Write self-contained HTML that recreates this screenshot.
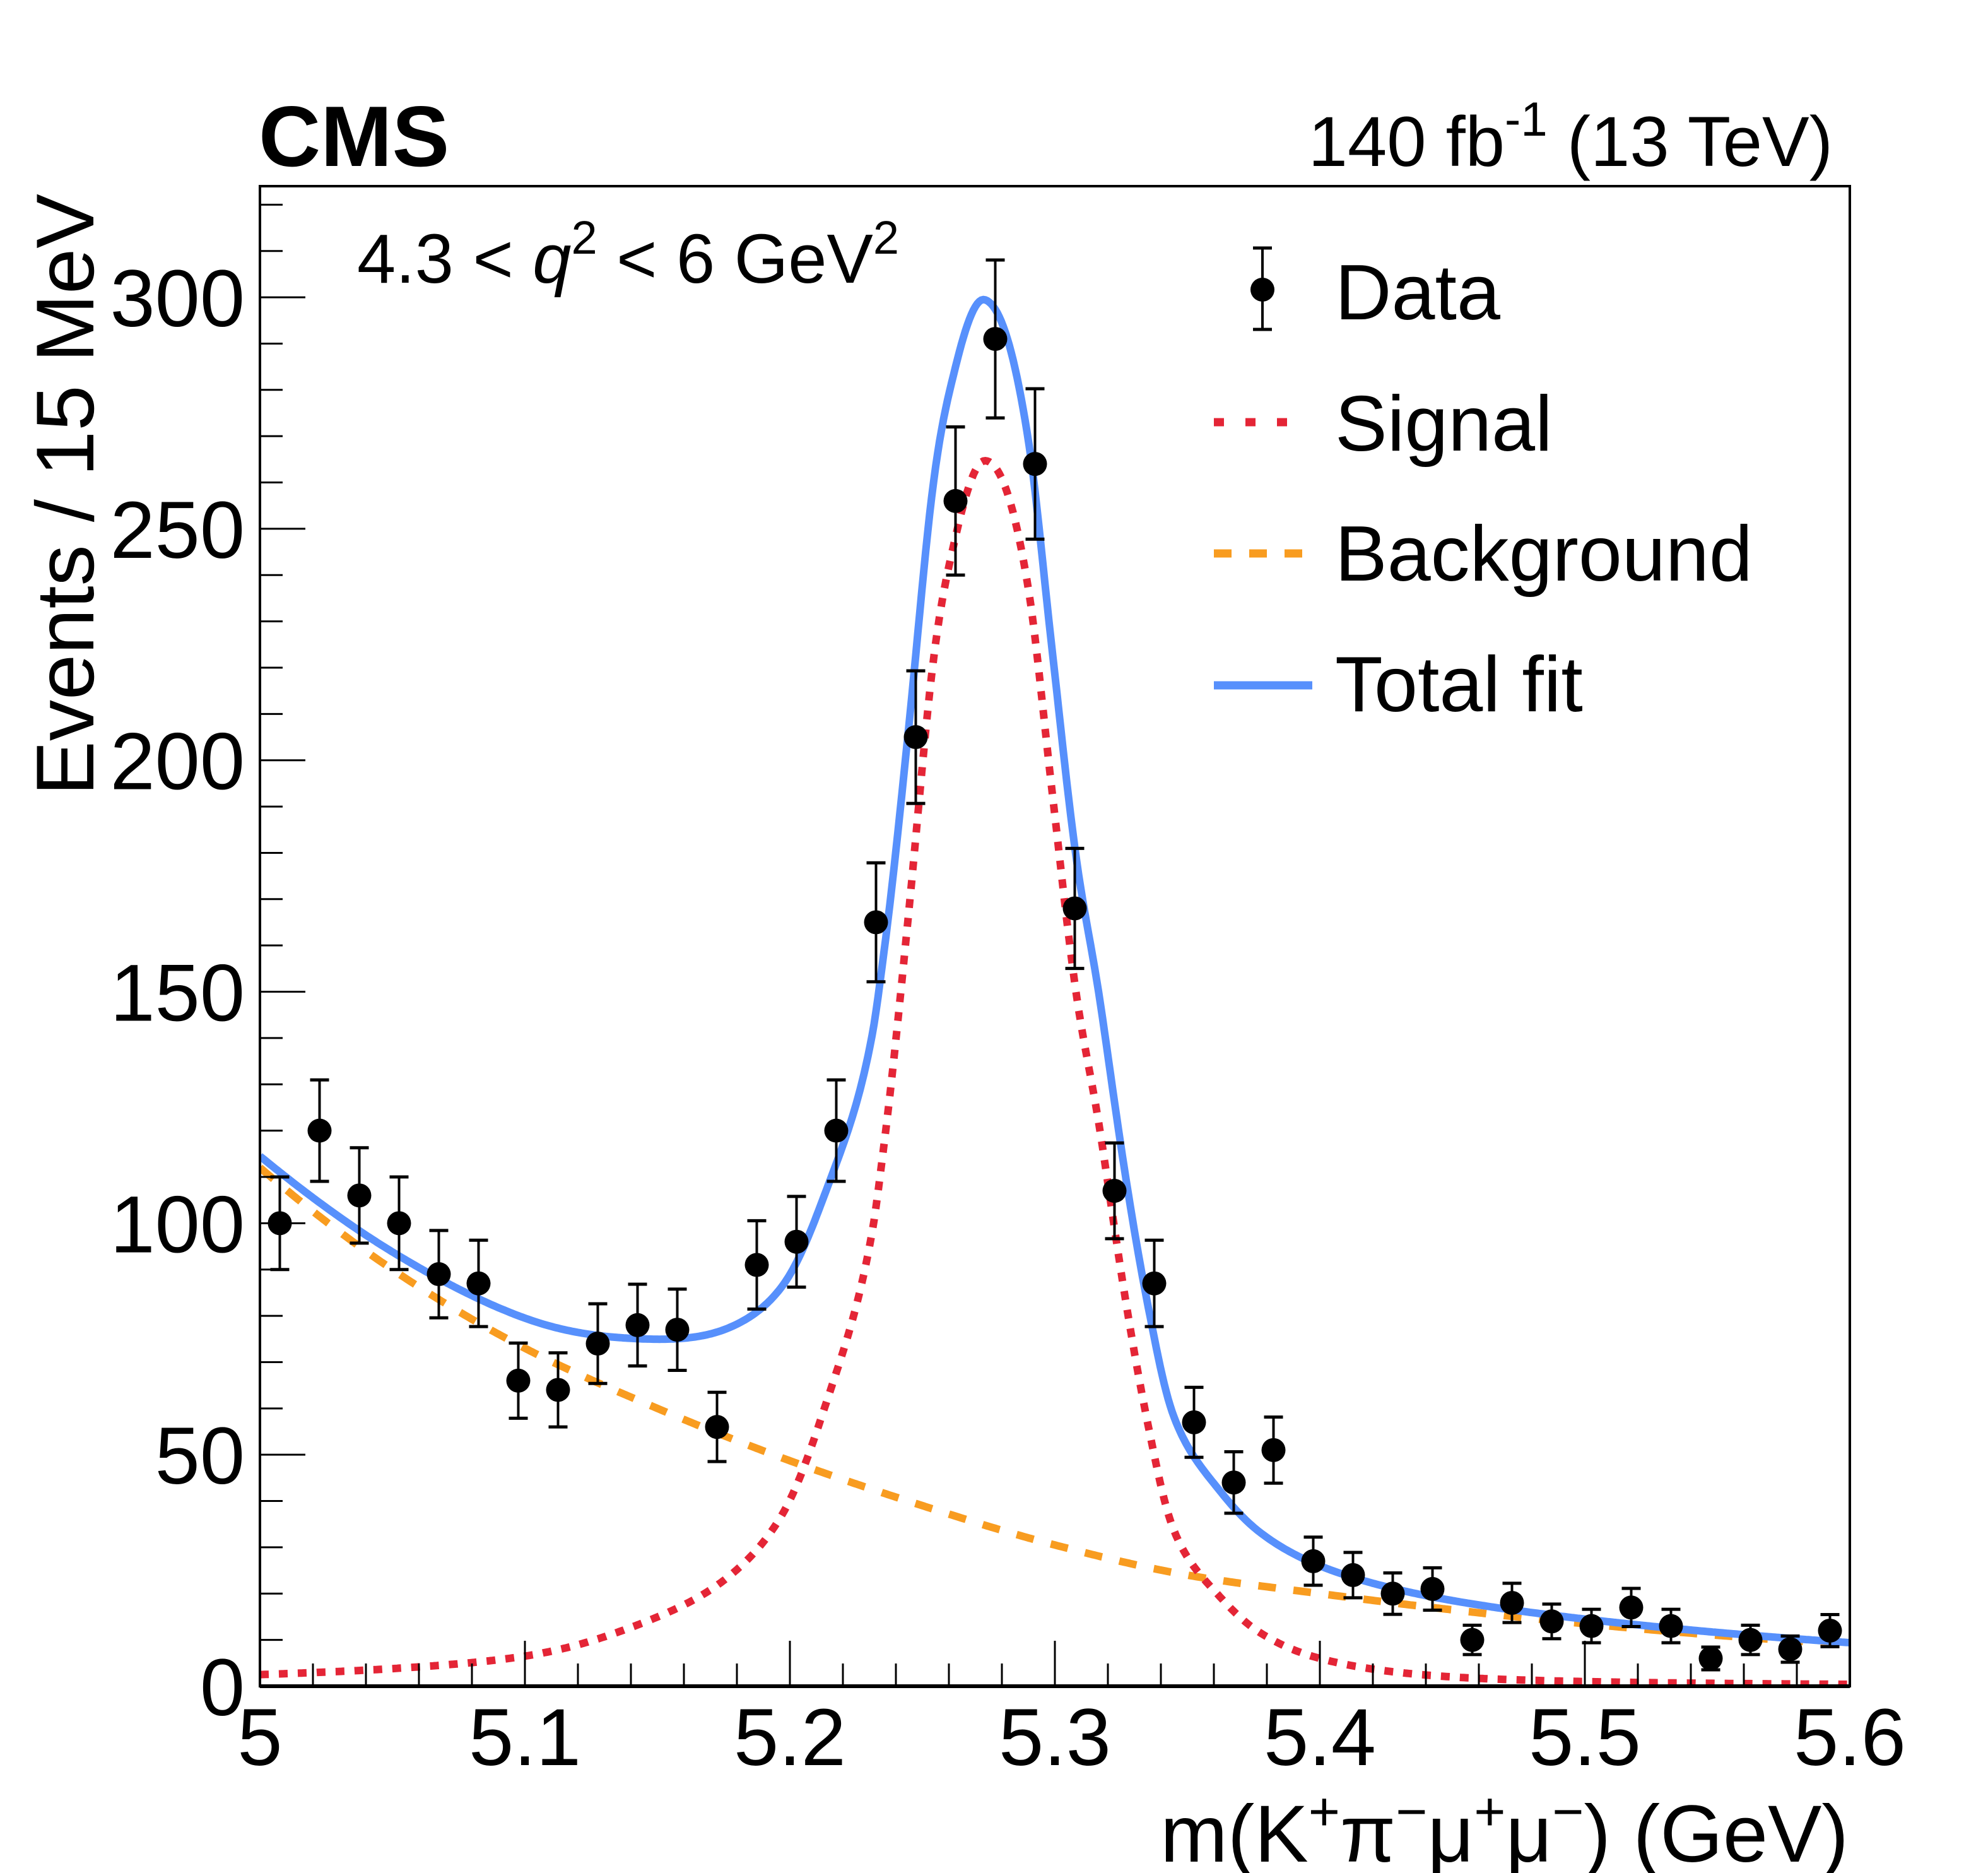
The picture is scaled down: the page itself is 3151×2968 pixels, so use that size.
<!DOCTYPE html>
<html><head><meta charset="utf-8"><style>
html,body{margin:0;padding:0;background:#fff;}
svg{display:block;font-family:"Liberation Sans",Arial,sans-serif;}
</style></head><body>
<svg id="chart" width="3151" height="2968" viewBox="0 0 3151 2968" xmlns="http://www.w3.org/2000/svg">
<rect width="3151" height="2968" fill="#fff"/>
<defs><clipPath id="frameclip"><rect x="412" y="295" width="2520" height="2377"/></clipPath></defs>
<g id="curves" clip-path="url(#frameclip)"></g>
<g id="points"></g>
<g id="axes"></g>
<text x="410" y="263" font-size="136" font-weight="bold">CMS</text>
<text x="2905" y="263" font-size="112" text-anchor="end">140 fb<tspan font-size="76" dy="-48">-1</tspan><tspan dy="48"> (13 TeV)</tspan></text>
<text x="566" y="448" font-size="110">4.3 &lt; <tspan font-style="italic">q</tspan><tspan font-size="74" dy="-46">2</tspan><tspan dy="46"> &lt; 6 GeV</tspan><tspan font-size="74" dy="-46">2</tspan></text>
<text x="2930" y="2950" font-size="128" text-anchor="end">m(K<tspan font-size="86" dy="-50">+</tspan><tspan dy="50">π</tspan><tspan font-size="86" dy="-50">−</tspan><tspan dy="50">μ</tspan><tspan font-size="86" dy="-50">+</tspan><tspan dy="50">μ</tspan><tspan font-size="86" dy="-50">−</tspan><tspan dy="50">) (GeV)</tspan></text>
<text transform="translate(148,307) rotate(-90)" font-size="130" text-anchor="end">Events / 15 MeV</text>
<g>
  <g>
    <line x1="2001" y1="393" x2="2001" y2="522" stroke="#000" stroke-width="4"/>
    <line x1="1986" y1="393" x2="2016" y2="393" stroke="#000" stroke-width="5"/>
    <line x1="1986" y1="522" x2="2016" y2="522" stroke="#000" stroke-width="5"/>
    <circle cx="2001" cy="459" r="19" fill="#000"/>
    <text x="2116" y="506" font-size="124">Data</text>
  </g>
  <g>
    <line x1="1924" y1="669" x2="2074" y2="669" stroke="#e42536" stroke-width="13" stroke-dasharray="16,34"/>
    <text x="2116" y="714" font-size="124">Signal</text>
  </g>
  <g>
    <line x1="1924" y1="877" x2="2064" y2="877" stroke="#f89c20" stroke-width="13" stroke-dasharray="28,28"/>
    <text x="2116" y="920" font-size="124">Background</text>
  </g>
  <g>
    <line x1="1924" y1="1086" x2="2080" y2="1086" stroke="#5790fc" stroke-width="13"/>
    <text x="2116" y="1127" font-size="124">Total fit</text>
  </g>
</g>
</svg>
<script>
const binCenters=[5.0075,5.0225,5.0375,5.0525,5.0675,5.0825,5.0975,5.1125,5.1275,5.1425,5.1575,5.1725,5.1875,5.2025,5.2175,5.2325,5.2475,5.2625,5.2775,5.2925,5.3075,5.3225,5.3375,5.3525,5.3675,5.3825,5.3975,5.4125,5.4275,5.4425,5.4575,5.4725,5.4875,5.5025,5.5175,5.5325,5.5475,5.5625,5.5775,5.5925];
const counts=[100,120,106,100,89,87,66,64,74,78,77,56,91,96,120,165,205,256,291,264,168,107,87,57,44,51,27,24,20,21,10,18,14,13,17,13,6,10,8,12];
const bkgX=[5.0,5.05,5.1,5.15,5.2,5.25,5.3,5.35,5.4,5.45,5.5,5.55,5.6];
const bkgY=[112,90,73,60,48.7,39,30.5,24,20,16.5,13.5,11,9];
const sigX=[5.0,5.05,5.1,5.14,5.1765,5.197,5.213,5.231,5.2354,5.2443,5.2534,5.2626,5.2736,5.290,5.299,5.3082,5.3174,5.3265,5.3355,5.3447,5.3628,5.3776,5.40,5.45,5.5,5.6];
const sigY=[2.5,3.8,6.5,12.7,23.5,37,60,98,116.5,164,218,248.5,264.7,237,193,149,118.6,84,55.5,34,19,11.5,6,2,1,0.4];
const xTicks=[5.0,5.1,5.2,5.3,5.4,5.5,5.6];
const xTickLabels=["5","5.1","5.2","5.3","5.4","5.5","5.6"];
const yTicks=[0,50,100,150,200,250,300];
const yTickLabels=["0","50","100","150","200","250","300"];

const L=412,R=2932,T=295,B=2672,X0=5.0,X1=5.6,Y1=324;
const xs=v=>L+(v-X0)/(X1-X0)*(R-L);
const ys=v=>B-v/Y1*(B-T);
const NS="http://www.w3.org/2000/svg";
function mk(tag,attrs,parent){const e=document.createElementNS(NS,tag);for(const k in attrs)e.setAttribute(k,attrs[k]);parent.appendChild(e);return e;}
// monotone cubic (Fritsch-Carlson) interpolation in log space
function makeInterp(X,Y){
  const n=X.length,l=Y.map(v=>Math.log(Math.max(v,0.01)));
  const d=[],m=new Array(n);
  for(let i=0;i<n-1;i++)d.push((l[i+1]-l[i])/(X[i+1]-X[i]));
  m[0]=d[0];m[n-1]=d[n-2];
  for(let i=1;i<n-1;i++){m[i]=(d[i-1]*d[i]<=0)?0:(d[i-1]+d[i])/2;}
  for(let i=0;i<n-1;i++){if(d[i]===0){m[i]=0;m[i+1]=0;continue;}
    const a=m[i]/d[i],b=m[i+1]/d[i],s=a*a+b*b;
    if(s>9){const t=3/Math.sqrt(s);m[i]=t*a*d[i];m[i+1]=t*b*d[i];}}
  return function(x){
    if(x<=X[0])return Y[0];if(x>=X[n-1])return Y[n-1];
    let i=0;while(X[i+1]<x)i++;
    const h=X[i+1]-X[i],t=(x-X[i])/h,t2=t*t,t3=t2*t;
    const r=(2*t3-3*t2+1)*l[i]+(t3-2*t2+t)*h*m[i]+(-2*t3+3*t2)*l[i+1]+(t3-t2)*h*m[i+1];
    return Math.exp(r);
  };
}
const bkgF=makeInterp(bkgX,bkgY),sigF=makeInterp(sigX,sigY);
const curves=document.getElementById('curves');
function pathFor(fn){let d="";for(let i=0;i<=800;i++){const x=X0+(X1-X0)*i/800;const y=fn(x);d+=(i?"L":"M")+xs(x).toFixed(1)+","+ys(y).toFixed(1);}return d;}
const bkgPath=mk('path',{d:pathFor(bkgF),fill:'none',stroke:'#f89c20','stroke-width':12,'stroke-dasharray':'28,28'},curves);


const sigPath=mk('path',{d:pathFor(sigF),fill:'none',stroke:'#e42536','stroke-width':12,'stroke-dasharray':'14,16'},curves);


const totPath=mk('path',{d:pathFor(x=>sigF(x)+bkgF(x)),fill:'none',stroke:'#5790fc','stroke-width':12},curves);



const pts=document.getElementById('points');
binCenters.forEach((c,i)=>{
  const n=counts[i],e=Math.sqrt(n);const cx=xs(c);
  const g=mk('g',{},pts);
  
  
  const lo=Math.min(ys(Math.max(n-e,0)),B);
  mk('line',{x1:cx,y1:ys(n+e),x2:cx,y2:lo,stroke:'#000','stroke-width':4},g);
  mk('line',{x1:cx-15,y1:ys(n+e),x2:cx+15,y2:ys(n+e),stroke:'#000','stroke-width':5},g);
  if(n-e>0)mk('line',{x1:cx-15,y1:ys(n-e),x2:cx+15,y2:ys(n-e),stroke:'#000','stroke-width':5},g);
  mk('circle',{cx:cx,cy:ys(n),r:19,fill:'#000'},g);
});

const ax=document.getElementById('axes');
const frame=mk('rect',{x:L,y:T,width:R-L,height:B-T,fill:'none',stroke:'#000','stroke-width':4},ax);


mk('line',{x1:L,y1:B,x2:R,y2:B,stroke:'#000','stroke-width':6},ax);
for(let k=0;k<=30;k++){const v=5.0+0.02*k;const major=k%5===0;
  mk('line',{x1:xs(v),y1:B,x2:xs(v),y2:B-(major?72:36),stroke:'#000','stroke-width':3},ax);}
for(let v=0;v<=320;v+=10){const major=v%50===0;
  mk('line',{x1:L,y1:ys(v),x2:L+(major?72:36),y2:ys(v),stroke:'#000','stroke-width':3},ax);}
xTicks.forEach((v,i)=>{const t=mk('text',{x:xs(v),y:2797,'font-size':128,'text-anchor':'middle'},ax);t.textContent=xTickLabels[i];
  
  });
yTicks.forEach((v,i)=>{const t=mk('text',{x:388,y:ys(v)+46,'font-size':128,'text-anchor':'end'},ax);t.textContent=yTickLabels[i];
  
  });
</script>
</body></html>
